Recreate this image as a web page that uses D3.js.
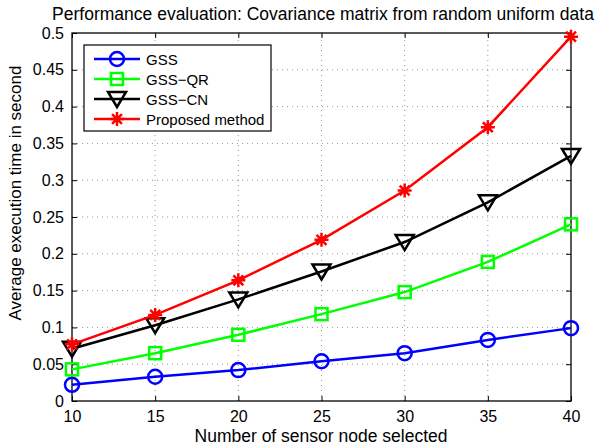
<!DOCTYPE html>
<html>
<head>
<meta charset="utf-8">
<script src="https://cdn.jsdelivr.net/npm/d3@7"></script>
<style>
  body { margin: 0; background: #fff; }
  text { font-family: "Liberation Sans", Arial, sans-serif; }
</style>
</head>
<body>
<svg id="main-chart"></svg>
<script>
const nodes = [10, 15, 20, 25, 30, 35, 40];
const gss = [0.022, 0.033, 0.042, 0.054, 0.065, 0.083, 0.099];
const gssQR = [0.043, 0.065, 0.090, 0.118, 0.148, 0.189, 0.240];
const gssCN = [0.071, 0.103, 0.138, 0.176, 0.216, 0.270, 0.333];
const proposed = [0.077, 0.117, 0.164, 0.219, 0.286, 0.372, 0.495];
const yTicks = [0, 0.05, 0.1, 0.15, 0.2, 0.25, 0.3, 0.35, 0.4, 0.45, 0.5];
const seriesNames = ["GSS", "GSS\u2212QR", "GSS\u2212CN", "Proposed method"];

const width = 608, height = 448;
const margin = {left: 72, right: 37, top: 33, bottom: 47};

const series = [
  {name: seriesNames[0], values: gss, color: "#0000ff", marker: "circle"},
  {name: seriesNames[1], values: gssQR, color: "#00ff00", marker: "square"},
  {name: seriesNames[2], values: gssCN, color: "#000000", marker: "triangle"},
  {name: seriesNames[3], values: proposed, color: "#ff0000", marker: "star"}
];

const svg = d3.select("#main-chart")
    .attr("width", width)
    .attr("height", height);

const x = d3.scaleLinear().domain([10, 40]).range([margin.left, width - margin.right]);
const y = d3.scaleLinear().domain([0, 0.5]).range([height - margin.bottom, margin.top]);

// grid
const grid = svg.append("g")
    .attr("stroke", "#555")
    .attr("stroke-width", 0.6)
    .attr("stroke-dasharray", "1,4");
grid.selectAll(".gx")
  .data(nodes.slice(1, -1))
  .join("line")
    .attr("x1", d => x(d)).attr("x2", d => x(d))
    .attr("y1", y(0)).attr("y2", y(0.5));
grid.selectAll(".gy")
  .data(yTicks.slice(1, -1))
  .join("line")
    .attr("x1", x(10)).attr("x2", x(40))
    .attr("y1", d => y(d)).attr("y2", d => y(d));

// axes
svg.append("g")
    .attr("transform", `translate(0,${y(0)})`)
    .call(d3.axisBottom(x).tickValues(nodes).tickSize(-5).tickPadding(10).tickFormat(d3.format("d")))
    .call(g => g.select(".domain").remove())
    .call(g => g.selectAll("text").attr("font-size", 16).attr("fill", "#000").attr("font-family", "Liberation Sans, Arial, sans-serif"));
svg.append("g")
    .attr("transform", `translate(0,${y(0.5)})`)
    .call(d3.axisTop(x).tickValues(nodes).tickSize(-5).tickFormat(""))
    .call(g => g.select(".domain").remove());
svg.append("g")
    .attr("transform", `translate(${x(10)},0)`)
    .call(d3.axisLeft(y).tickValues(yTicks).tickSize(-5).tickPadding(8).tickFormat(d => String(d)))
    .call(g => g.select(".domain").remove())
    .call(g => g.selectAll("text").attr("font-size", 16).attr("fill", "#000").attr("font-family", "Liberation Sans, Arial, sans-serif"));
svg.append("g")
    .attr("transform", `translate(${x(40)},0)`)
    .call(d3.axisRight(y).tickValues(yTicks).tickSize(-5).tickFormat(""))
    .call(g => g.select(".domain").remove());

svg.append("rect")
    .attr("x", x(10)).attr("y", y(0.5))
    .attr("width", x(40) - x(10)).attr("height", y(0) - y(0.5))
    .attr("fill", "none").attr("stroke", "#000").attr("stroke-width", 1.3);

// markers
function drawMarker(g, type, color) {
  if (type === "circle") {
    g.append("circle").attr("r", 7).attr("fill", "none").attr("stroke", color).attr("stroke-width", 2.5);
  } else if (type === "square") {
    g.append("rect").attr("x", -6).attr("y", -6).attr("width", 12).attr("height", 12)
      .attr("fill", "none").attr("stroke", color).attr("stroke-width", 2.5);
  } else if (type === "triangle") {
    g.append("path").attr("d", "M-9,-7L9,-7L0,8Z").attr("fill", "none").attr("stroke", color).attr("stroke-width", 2.5);
  } else {
    const r = 7;
    let d = "";
    for (let i = 0; i < 4; i++) {
      const a = i * Math.PI / 4;
      d += `M${-r * Math.cos(a)},${-r * Math.sin(a)}L${r * Math.cos(a)},${r * Math.sin(a)}`;
    }
    g.append("path").attr("d", d).attr("stroke", color).attr("stroke-width", 2.5);
  }
}

const line = d3.line().x((d, i) => x(nodes[i])).y(d => y(d));

series.forEach(s => {
  svg.append("path")
      .attr("d", line(s.values))
      .attr("fill", "none")
      .attr("stroke", s.color)
      .attr("stroke-width", 2.5);
  s.values.forEach((v, i) => {
    const g = svg.append("g").attr("transform", `translate(${x(nodes[i])},${y(v)})`);
    drawMarker(g, s.marker, s.color);
  });
});

// legend
const legend = svg.append("g").attr("transform", "translate(84,45)");
legend.append("rect")
    .attr("width", 187).attr("height", 86)
    .attr("fill", "#fff").attr("stroke", "#000").attr("stroke-width", 1.2);
series.forEach((s, i) => {
  const ly = 14 + i * 20;
  legend.append("line")
      .attr("x1", 10).attr("x2", 56).attr("y1", ly).attr("y2", ly)
      .attr("stroke", s.color).attr("stroke-width", 2.5);
  drawMarker(legend.append("g").attr("transform", `translate(33,${ly})`), s.marker, s.color);
  legend.append("text")
      .attr("x", 62).attr("y", ly + 5.5)
      .attr("font-size", 15)
      .text(s.name);
});

// labels
svg.append("text")
    .attr("x", 323).attr("y", 20)
    .attr("text-anchor", "middle")
    .attr("font-size", 17.5)
    .text("Performance evaluation: Covariance matrix from random uniform data");
svg.append("text")
    .attr("x", 321).attr("y", 442)
    .attr("text-anchor", "middle")
    .attr("font-size", 17.5)
    .text("Number of sensor node selected");
svg.append("text")
    .attr("transform", `translate(21,193) rotate(-90)`)
    .attr("text-anchor", "middle")
    .attr("font-size", 17)
    .text("Average execution time in second");
</script>
</body>
</html>
